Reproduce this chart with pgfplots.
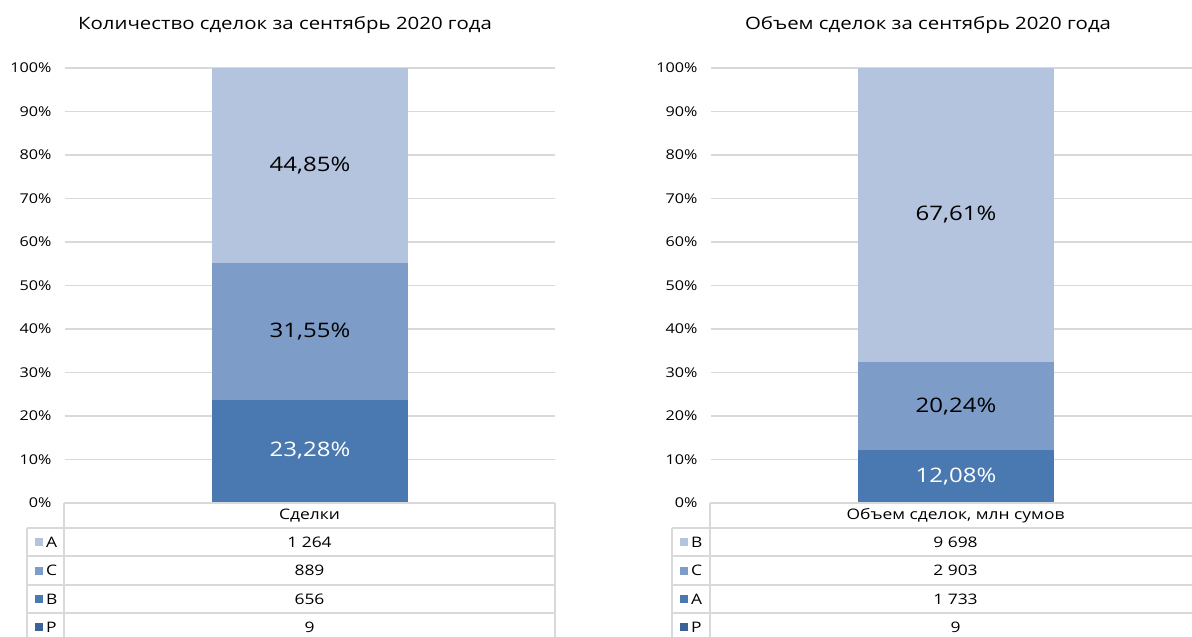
\documentclass[border=0pt]{standalone}
\usepackage{fontspec}
\setmainfont{Open Sans}[FakeStretch=1.2]
\usepackage{pgfplots}
\pgfplotsset{compat=1.18}
\definecolor{segP}{RGB}{60,98,152}
\definecolor{segB}{RGB}{74,120,176}
\definecolor{segC}{RGB}{126,156,200}
\definecolor{segA}{RGB}{181,196,222}
\definecolor{gridgray}{RGB}{217,217,217}

\newcommand{\tickfont}{\fontsize{13.5}{15}\selectfont}
\newcommand{\tabfont}{\fontsize{14.5}{16}\selectfont}
\newcommand{\lblfont}{\fontsize{20}{23}\selectfont}

\pgfplotsset{
  stackpanel/.style={
    scale only axis, width=490pt, height=435pt,
    anchor=south west,
    xmin=-0.5, xmax=0.5, ymin=0, ymax=100,
    ybar stacked, bar width=0.4,
    axis line style={draw=none},
    major tick length=0pt,
    xtick=\empty,
    ytick={0,10,...,100},
    yticklabel={\pgfmathprintnumber{\tick}\%},
    /pgf/number format/assume math mode=true,
    yticklabel style={font=\tickfont, xshift=-10pt},
    ymajorgrids,
    grid style={gridgray, line width=1.3pt},
    clip=false,
  },
}

\begin{document}
\begin{tikzpicture}
\useasboundingbox (0,0) rectangle (1192pt,-637pt);

% left: number of deals, shares in %
\begin{axis}[stackpanel, at={(65pt,-503pt)}]
\addplot[fill=segP, draw=none] coordinates {(0,0.32)};
\addplot[fill=segB, draw=none] coordinates {(0,23.28)};
\addplot[fill=segC, draw=none] coordinates {(0,31.55)};
\addplot[fill=segA, draw=none] coordinates {(0,44.85)};
\coordinate (LA) at (axis cs:0,77.575);
\coordinate (LC) at (axis cs:0,39.375);
\coordinate (LB) at (axis cs:0,11.96);
\end{axis}
\node[font=\lblfont] at (LA) {44,85\%};
\node[font=\lblfont] at (LC) {31,55\%};
\node[font=\lblfont, text=white] at (LB) {23,28\%};

% right: volume of deals, shares in %
\begin{axis}[stackpanel, at={(711pt,-503pt)}]
\addplot[fill=segP, draw=none] coordinates {(0,0.06)};
\addplot[fill=segB, draw=none] coordinates {(0,12.08)};
\addplot[fill=segC, draw=none] coordinates {(0,20.24)};
\addplot[fill=segA, draw=none] coordinates {(0,67.62)};
\coordinate (RB) at (axis cs:0,66.2);
\coordinate (RC) at (axis cs:0,22.26);
\coordinate (RA) at (axis cs:0,6.1);
\end{axis}
\node[font=\lblfont] at (RB) {67,61\%};
\node[font=\lblfont] at (RC) {20,24\%};
\node[font=\lblfont, text=white] at (RA) {12,08\%};

\begin{scope}[x=1pt, y=-1pt]
\node[font=\fontsize{17}{19}\selectfont] at (285,25) {Количество сделок за сентябрь 2020 года};
\node[font=\fontsize{17}{19}\selectfont] at (928,25) {Объем сделок за сентябрь 2020 года};

% data tables under the bars
\foreach \xl/\xd/\xr/\head/\va/\vb/\vc/\vd/\na/\nb/\nc in
  {27/64/555/Сделки/1 264/889/656/9/A/C/B,
   672/710/1201/{Объем сделок, млн сумов}/9 698/2 903/1 733/9/B/C/A}{
  \draw[gridgray, line width=1.3pt] (\xd,503) -- (\xr,503);
  \foreach \yy in {528,556,585,613,641}
    \draw[gridgray, line width=1.3pt] (\xl,\yy) -- (\xr,\yy);
  \draw[gridgray, line width=1.3pt] (\xl,528) -- (\xl,641);
  \draw[gridgray, line width=1.3pt] (\xd,503) -- (\xd,641);
  \draw[gridgray, line width=1.3pt] (\xr,503) -- (\xr,641);
  \pgfmathsetmacro{\xm}{(\xd+\xr)/2}
  \node[font=\tabfont] at (\xm,515.5) {\head};
  \node[font=\tabfont] at (\xm,542) {\va};
  \node[font=\tabfont] at (\xm,570.5) {\vb};
  \node[font=\tabfont] at (\xm,599) {\vc};
  \node[font=\tabfont] at (\xm,627) {\vd};
  \fill[segA] (\xl+8,538) rectangle ++(8,8);
  \fill[segC] (\xl+8,566.5) rectangle ++(8,8);
  \fill[segB] (\xl+8,595) rectangle ++(8,8);
  \fill[segP] (\xl+8,623) rectangle ++(8,8);
  \node[font=\tabfont, anchor=west, inner sep=0pt] at (\xl+19,542) {\na};
  \node[font=\tabfont, anchor=west, inner sep=0pt] at (\xl+19,570.5) {\nb};
  \node[font=\tabfont, anchor=west, inner sep=0pt] at (\xl+19,599) {\nc};
  \node[font=\tabfont, anchor=west, inner sep=0pt] at (\xl+19,627) {P};
}
\end{scope}
\end{tikzpicture}
\end{document}
